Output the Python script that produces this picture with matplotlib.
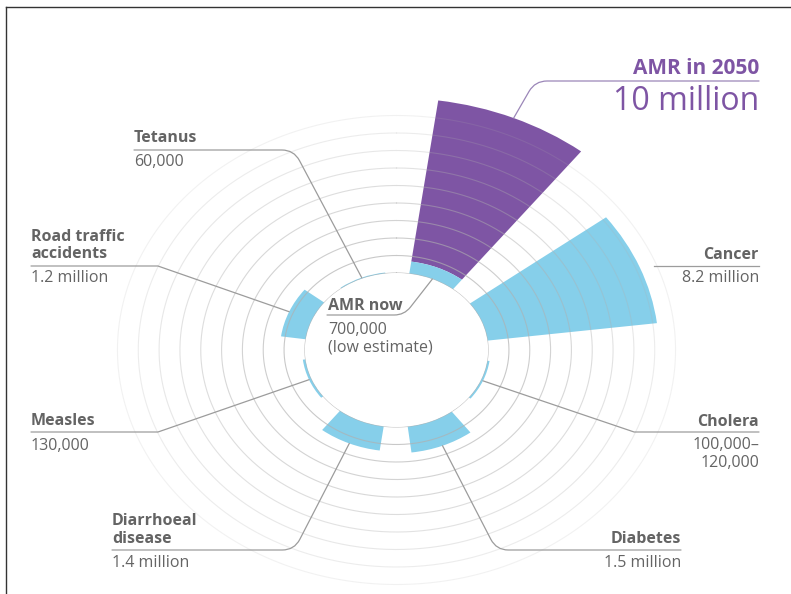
import numpy as np
import matplotlib.pyplot as plt
from matplotlib.lines import Line2D

W, H = 791, 594

# deaths per year, millions
causes = ['AMR now', 'Cancer', 'Cholera', 'Diabetes', 'Diarrhoeal\ndisease',
          'Measles', 'Road traffic\naccidents', 'Tetanus']
deaths = [0.7, 8.2, 0.11, 1.5, 1.4, 0.13, 1.2, 0.06]
death_labels = ['700,000\n(low estimate)', '8.2 million', '100,000\u2013\n120,000',
                '1.5 million', '1.4 million', '130,000', '1.2 million', '60,000']
amr_2050 = 10.0
amr_2050_label = '10 million'

cyan = '#86cfea'
purple = '#7e55a4'
txt = '#646464'
lead = '#9c9c9c'

plt.rcParams['font.family'] = ['Open Sans', 'DejaVu Sans']


def px(x, y):
    # pixel position (y from top) -> figure fraction
    return x / W, 1 - y / H


fig = plt.figure(figsize=(W / 100, H / 100), dpi=100)
fig.patch.set_facecolor('white')

scale = 17.5          # px per million (vertical)
r0 = 77 / scale       # hole in the middle
rmax = 10.6
half_h = (r0 + rmax) * scale
half_w = half_h * 1.19
cx, cy = 396.5, 350
ax = fig.add_axes([(cx - half_w) / W, (H - cy - half_h) / H, 2 * half_w / W, 2 * half_h / H],
                  projection='polar')
ax.set_aspect('auto')
ax.set_theta_zero_location('N')
ax.set_theta_direction(-1)
ax.set_rorigin(-r0)
ax.set_ylim(0, rmax)
ax.axis('off')

theta = np.radians(23 + 45 * np.arange(len(causes)))
width = np.radians(30)
ax.bar(theta[0], amr_2050 - deaths[0], width=width, bottom=deaths[0],
       color=purple, lw=0, zorder=2)
ax.bar(theta, deaths, width=width, color=cyan, lw=0, zorder=2)

# rings, fading outwards
full = np.linspace(0, 2 * np.pi, 500)
for k in range(10):
    ax.plot(full, np.full_like(full, k), color='#b0b0b0', lw=0.8,
            alpha=0.75 - 0.065 * k, zorder=3)


def leader(start, i, r, angle, rad):
    ax.annotate('', xy=(theta[i], r), xycoords='data',
                xytext=px(*start), textcoords='figure fraction',
                annotation_clip=False,
                arrowprops=dict(arrowstyle='-', color=lead, lw=0.9,
                                shrinkA=0, shrinkB=0,
                                connectionstyle=f'angle,angleA=0,angleB={angle},rad={rad}'))


def label(i, x, y_name, y_line, y_val, ha='left'):
    fig.text(*px(x, y_name), causes[i], ha=ha, va='center', fontsize=11.5,
             fontweight='bold', color=txt, linespacing=1.15)
    fig.text(*px(x, y_val), death_labels[i], ha=ha, va='center', fontsize=11.5,
             color=txt, linespacing=1.1)


# Tetanus
label(7, 134, 138, 150, 162)
leader((134, 150), 7, deaths[7], -62, 12)
# Road traffic
label(6, 31, 245.5, 266, 278)
leader((31, 266), 6, deaths[6], -19.2, 0)
# Measles
label(5, 31, 421, 432, 446)
leader((31, 432), 5, deaths[5], 19.1, 0)
# Diarrhoeal
label(4, 112, 530, 550, 563)
leader((112, 550), 4, deaths[4], 62.7, 12)
# Diabetes
label(3, 681, 539, 550, 563, ha='right')
leader((681, 550), 3, deaths[3], -62.7, 12)
# Cholera
label(2, 759, 422, 432, 454, ha='right')
leader((759, 432), 2, deaths[2], -18.7, 0)
# Cancer
label(1, 759, 255, 266, 278, ha='right')
fig.add_artist(Line2D([654 / W, 759 / W], [1 - 266 / H] * 2, color=lead, lw=0.9))
# AMR now
label(0, 328, 306, 315, 339)
leader((327, 315), 0, 0.0, 52, 10)

# AMR in 2050
fig.text(*px(759, 68), 'AMR in 2050', ha='right', va='center', fontsize=15,
         fontweight='bold', color=purple)
fig.text(*px(759, 102), amr_2050_label, ha='right', va='center', fontsize=23,
         color=purple)
ax.annotate('', xy=(theta[0], amr_2050), xycoords='data',
            xytext=px(759, 81), textcoords='figure fraction', annotation_clip=False,
            arrowprops=dict(arrowstyle='-', color='#9b86b8', lw=0.9, shrinkA=0, shrinkB=0,
                            connectionstyle='angle,angleA=0,angleB=60,rad=12'))

# frame
fig.add_artist(Line2D([6 / W, 6 / W], [0, 1 - 7 / H], color='#333333', lw=1))
fig.add_artist(Line2D([6 / W, 1], [1 - 7 / H] * 2, color='#333333', lw=1))

fig.savefig('out.png', dpi=100, facecolor='white')
